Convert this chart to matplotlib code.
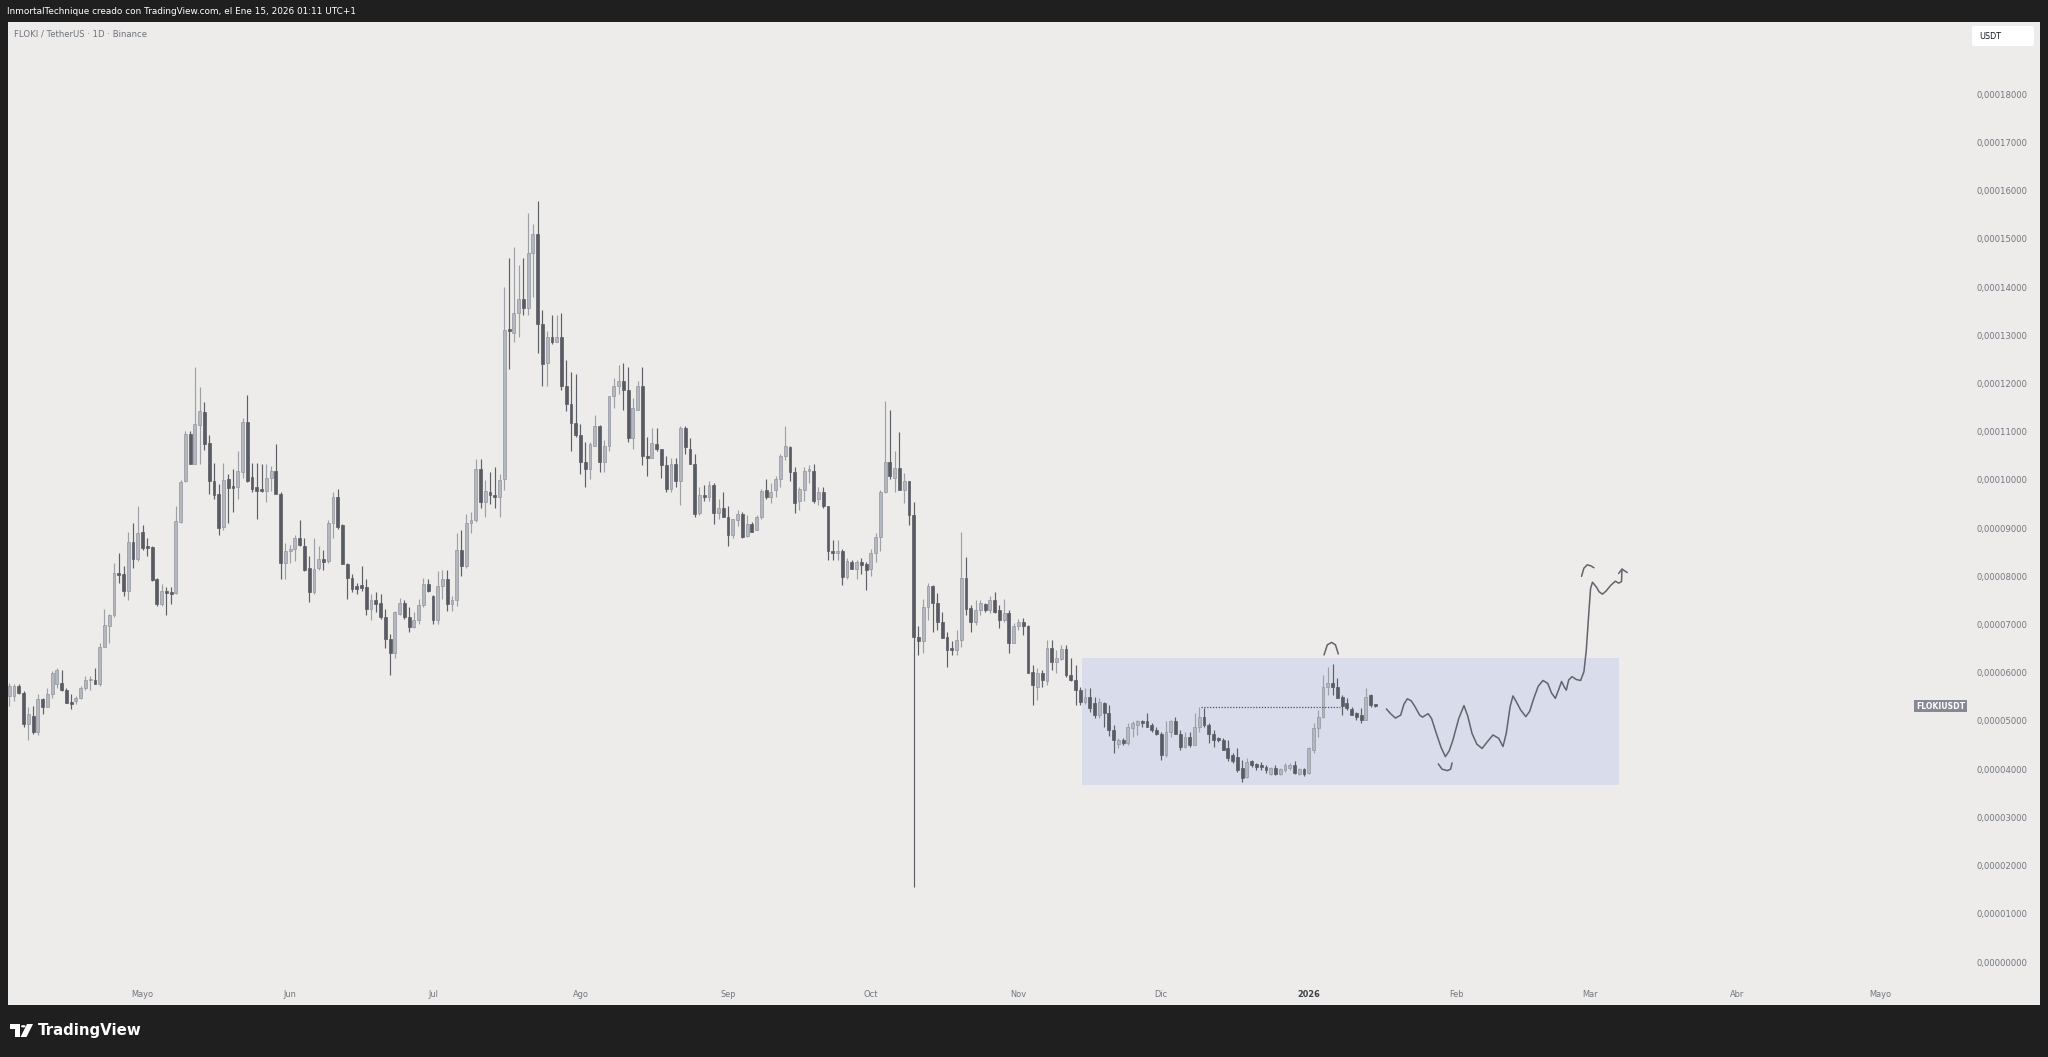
import numpy as np
import pandas as pd
import matplotlib
matplotlib.use("Agg")
import matplotlib.pyplot as plt
import matplotlib.dates as mdates
import matplotlib.transforms as mtrans
from matplotlib.patches import Rectangle, FancyBboxPatch, Circle, Polygon
from matplotlib import font_manager as fm

# ---------------- DATA (prices in units of 1e-5 USDT) ----------------
first_candle_date = "2025-04-03"

open_e5 = [5.52, 5.52, 5.72, 5.58, 4.94, 5.11, 4.77, 5.45, 5.28, 5.55,
           5.76, 5.79, 5.65, 5.38, 5.41, 5.48, 5.69, 5.84, 5.86, 5.77,
           6.54, 6.98, 7.19, 8.04, 8.04, 7.70, 8.72, 8.35, 8.91, 8.61,
           8.61, 7.94, 7.43, 7.70, 7.67, 7.65, 9.13, 9.97, 10.95, 10.34,
           11.15, 11.40, 10.77, 9.97, 9.71, 9.03, 10.02, 9.86, 9.86, 10.16,
           11.20, 10.07, 9.85, 9.78, 9.78, 10.05, 10.18, 9.71, 8.28, 8.52,
           8.57, 8.79, 8.62, 8.18, 7.67, 8.18, 8.36, 8.31, 9.10, 9.64,
           9.06, 8.25, 7.97, 7.80, 7.82, 7.77, 7.32, 7.52, 7.45, 7.15,
           6.70, 6.40, 7.22, 7.45, 7.15, 6.95, 7.09, 7.41, 7.84, 7.60,
           7.09, 7.80, 7.94, 7.43, 7.50, 8.55, 8.21, 9.10, 9.17, 10.22,
           9.54, 9.75, 9.68, 9.65, 10.02, 13.12, 13.05, 13.46, 13.75, 13.57,
           14.71, 15.11, 13.23, 12.42, 12.97, 12.86, 12.97, 11.95, 11.58, 11.18,
           10.94, 10.37, 10.22, 10.71, 11.12, 10.38, 10.71, 11.75, 11.94, 12.05,
           11.86, 10.86, 11.46, 11.94, 10.49, 10.45, 10.75, 10.64, 10.31, 9.82,
           10.34, 9.97, 11.08, 10.64, 10.34, 9.31, 9.68, 9.64, 9.90, 9.31,
           9.42, 9.23, 8.86, 9.16, 9.29, 8.83, 9.08, 8.97, 9.23, 9.79,
           9.64, 9.79, 10.01, 10.49, 10.68, 10.16, 9.56, 9.79, 10.19, 10.19,
           9.60, 9.75, 9.45, 8.53, 8.49, 8.53, 7.99, 8.30, 8.16, 8.29,
           8.25, 8.16, 8.49, 8.82, 9.75, 10.38, 10.05, 10.24, 9.79, 9.97,
           9.27, 6.75, 6.65, 7.37, 7.79, 7.44, 7.06, 6.75, 6.51, 6.47,
           6.68, 7.96, 7.34, 7.06, 7.30, 7.43, 7.30, 7.52, 7.30, 7.10,
           7.23, 6.61, 6.97, 7.06, 6.97, 6.02, 5.71, 6.00, 5.82, 6.51,
           6.23, 6.28, 6.49, 5.95, 5.85, 5.64, 5.40, 5.50, 5.37, 5.12,
           5.38, 5.16, 4.81, 4.52, 4.60, 4.54, 4.85, 4.92, 4.99, 4.99,
           4.92, 4.81, 4.74, 4.29, 4.78, 4.99, 4.74, 4.47, 4.67, 4.50,
           4.88, 5.08, 4.92, 4.74, 4.64, 4.60, 4.43, 4.29, 4.26, 4.02,
           3.84, 4.16, 4.11, 4.09, 4.04, 3.91, 4.02, 3.91, 3.98, 4.02,
           4.09, 3.91, 4.00, 3.93, 4.40, 4.85, 5.08, 5.71, 5.78, 5.71,
           5.50, 5.37, 5.24, 5.16, 5.12, 5.03, 5.54, 5.32]

high_e5 = [5.79, 5.76, 5.76, 5.62, 5.28, 5.31, 5.55, 5.48, 5.69, 6.03,
           6.10, 6.06, 5.69, 5.55, 5.52, 5.72, 5.93, 5.93, 6.10, 6.61,
           7.32, 7.22, 8.28, 8.48, 8.21, 8.93, 9.10, 9.47, 9.06, 8.79,
           8.62, 7.97, 7.84, 7.77, 7.77, 9.47, 9.99, 11.01, 11.01, 12.34,
           11.93, 11.62, 10.94, 10.36, 9.92, 10.36, 10.12, 10.22, 10.60, 11.28,
           11.77, 10.36, 10.36, 10.33, 10.34, 10.29, 10.75, 9.75, 8.69, 8.65,
           8.86, 9.17, 8.79, 8.42, 8.79, 8.62, 8.55, 9.17, 9.75, 9.82,
           9.08, 8.28, 8.04, 7.87, 8.21, 7.94, 7.63, 7.67, 7.63, 7.32,
           6.81, 7.29, 7.56, 7.50, 7.36, 7.26, 7.53, 7.97, 7.94, 7.62,
           8.11, 8.14, 8.14, 7.60, 8.89, 8.96, 9.30, 9.33, 10.43, 10.43,
           9.99, 10.16, 10.26, 10.12, 14.01, 14.60, 14.83, 14.46, 14.60, 15.53,
           15.31, 15.79, 13.53, 13.09, 13.42, 13.42, 13.46, 12.49, 12.23, 12.20,
           11.16, 10.79, 10.79, 11.34, 11.14, 10.83, 11.75, 12.12, 12.38, 12.42,
           12.34, 11.71, 12.05, 12.34, 10.90, 11.08, 11.08, 10.64, 10.49, 10.45,
           10.45, 11.12, 11.12, 10.86, 10.53, 9.86, 9.90, 9.97, 9.94, 9.60,
           9.75, 9.45, 9.19, 9.38, 9.34, 9.27, 9.12, 9.27, 9.82, 10.01,
           9.94, 10.08, 10.53, 11.12, 10.71, 10.27, 9.86, 10.27, 10.31, 10.34,
           9.86, 9.86, 9.45, 8.75, 8.75, 8.56, 8.38, 8.34, 8.34, 8.38,
           8.30, 8.56, 8.90, 9.79, 11.63, 11.46, 10.60, 11.00, 10.15, 9.97,
           9.55, 6.96, 7.54, 7.86, 7.82, 7.65, 7.27, 6.85, 6.65, 6.89,
           8.93, 8.41, 7.41, 7.51, 7.51, 7.455, 7.59, 7.68, 7.41, 7.54,
           7.30, 7.03, 7.11, 7.13, 6.99, 6.16, 6.09, 6.06, 6.69, 6.69,
           6.47, 6.58, 6.58, 6.30, 6.16, 5.71, 5.68, 5.68, 5.50, 5.47,
           5.40, 5.33, 4.92, 4.64, 4.64, 4.95, 4.99, 5.02, 5.02, 5.16,
           4.95, 4.88, 4.78, 4.99, 5.02, 5.09, 4.81, 4.78, 4.78, 5.16,
           5.30, 5.26, 4.95, 4.81, 4.67, 4.64, 4.60, 4.33, 4.43, 4.19,
           4.23, 4.19, 4.12, 4.14, 4.09, 4.05, 4.09, 4.02, 4.12, 4.12,
           4.16, 4.02, 4.02, 4.47, 4.95, 5.23, 5.95, 6.13, 6.18, 5.89,
           5.54, 5.47, 5.30, 5.19, 5.26, 5.68, 5.57, 5.33]

low_e5 = [5.31, 5.41, 5.55, 4.87, 4.60, 4.73, 4.70, 5.14, 5.28, 5.48,
          5.69, 5.62, 5.38, 5.24, 5.35, 5.45, 5.65, 5.65, 5.76, 5.72,
          6.54, 6.61, 7.15, 7.87, 7.60, 7.50, 8.18, 8.31, 8.55, 8.42,
          7.90, 7.39, 7.39, 7.19, 7.43, 7.63, 9.10, 9.95, 10.33, 10.33,
          10.33, 10.63, 9.71, 9.61, 8.86, 8.96, 9.10, 9.34, 9.61, 10.05,
          9.95, 9.75, 9.20, 9.75, 9.54, 9.78, 9.71, 7.94, 7.94, 8.28,
          8.31, 8.62, 8.11, 7.46, 7.63, 8.14, 8.14, 8.28, 8.79, 8.99,
          8.25, 7.53, 7.67, 7.63, 7.70, 7.19, 7.09, 7.26, 7.12, 6.51,
          5.96, 6.30, 7.19, 7.12, 6.85, 6.92, 7.02, 7.36, 7.67, 7.02,
          7.02, 7.53, 7.29, 7.29, 7.39, 8.00, 8.18, 8.89, 9.13, 9.41,
          9.24, 9.51, 9.41, 9.24, 9.79, 12.31, 12.86, 12.97, 13.42, 13.42,
          13.79, 12.64, 11.94, 11.95, 12.83, 12.86, 11.86, 11.42, 10.60, 10.90,
          10.12, 9.86, 10.01, 10.71, 10.16, 10.16, 10.60, 11.49, 11.79, 11.46,
          10.79, 10.64, 11.46, 10.31, 10.08, 10.45, 10.60, 10.05, 9.75, 9.75,
          9.86, 9.49, 10.53, 10.34, 9.23, 9.27, 9.56, 9.56, 9.08, 9.19,
          9.23, 8.64, 8.79, 9.05, 8.79, 8.82, 8.93, 8.97, 9.19, 9.60,
          9.53, 9.64, 9.86, 10.42, 9.97, 9.31, 9.38, 9.56, 9.94, 9.53,
          9.49, 9.42, 8.34, 8.34, 8.34, 7.82, 7.94, 8.16, 7.94, 8.05,
          7.71, 8.01, 8.30, 8.53, 9.72, 10.01, 9.75, 9.79, 9.52, 9.07,
          1.56, 6.37, 6.40, 7.10, 6.85, 6.89, 6.72, 6.13, 6.37, 6.37,
          6.54, 7.20, 6.85, 7.00, 7.20, 7.27, 7.23, 7.23, 6.92, 7.06,
          6.40, 6.61, 6.89, 6.78, 5.99, 5.33, 5.44, 5.71, 5.75, 6.06,
          5.99, 6.27, 5.92, 5.82, 5.33, 5.33, 5.36, 5.19, 5.06, 5.06,
          4.88, 4.68, 4.33, 4.43, 4.50, 4.50, 4.67, 4.71, 4.88, 4.88,
          4.78, 4.71, 4.19, 4.26, 4.67, 4.74, 4.40, 4.43, 4.47, 4.50,
          4.78, 4.88, 4.54, 4.47, 4.57, 4.40, 4.16, 4.12, 3.95, 3.74,
          3.81, 4.05, 3.98, 3.98, 3.93, 3.88, 3.88, 3.88, 3.95, 3.98,
          3.91, 3.88, 3.86, 3.91, 4.33, 4.67, 5.06, 5.54, 5.54, 5.47,
          5.12, 5.23, 5.12, 5.02, 4.95, 5.02, 5.30, 5.30]

close_e5 = [5.72, 5.73, 5.58, 4.94, 5.14, 4.77, 5.45, 5.28, 5.55, 5.99,
            6.06, 5.65, 5.38, 5.36, 5.48, 5.69, 5.84, 5.86, 5.77, 6.54,
            7.00, 7.19, 8.06, 8.03, 7.70, 8.72, 8.35, 8.90, 8.59, 8.59,
            7.92, 7.43, 7.70, 7.65, 7.63, 9.15, 9.95, 10.95, 10.34, 11.16,
            11.42, 10.75, 9.97, 9.68, 9.00, 10.00, 9.84, 9.84, 10.18, 11.20,
            9.97, 9.82, 9.78, 9.77, 10.05, 10.18, 9.71, 8.28, 8.52, 8.57,
            8.79, 8.65, 8.14, 7.67, 8.16, 8.36, 8.30, 9.11, 9.64, 9.03,
            8.25, 7.97, 7.73, 7.73, 7.75, 7.32, 7.52, 7.43, 7.15, 6.71,
            6.40, 7.26, 7.45, 7.15, 6.95, 7.09, 7.41, 7.84, 7.70, 7.09,
            7.80, 7.94, 7.43, 7.50, 8.55, 8.21, 9.10, 9.17, 10.22, 9.54,
            9.77, 9.68, 9.65, 10.00, 13.12, 13.09, 13.46, 13.75, 13.57, 14.71,
            15.11, 13.23, 12.40, 12.97, 12.86, 12.97, 11.94, 11.58, 11.18, 10.94,
            10.37, 10.22, 10.75, 11.12, 10.38, 10.71, 11.75, 11.94, 12.05, 11.86,
            10.86, 11.49, 11.94, 10.49, 10.45, 10.77, 10.64, 10.31, 9.82, 10.34,
            9.97, 11.08, 10.68, 10.34, 9.29, 9.68, 9.64, 9.90, 9.31, 9.42,
            9.23, 8.86, 9.19, 9.29, 8.82, 9.08, 8.93, 9.23, 9.77, 9.64,
            9.75, 10.01, 10.49, 10.71, 10.16, 9.53, 9.82, 10.19, 10.19, 9.56,
            9.75, 9.45, 8.53, 8.49, 8.53, 7.99, 8.32, 8.16, 8.30, 8.23,
            8.14, 8.49, 8.82, 9.75, 10.38, 10.09, 10.25, 9.79, 9.97, 9.27,
            6.75, 6.65, 7.37, 7.79, 7.44, 7.06, 6.72, 6.47, 6.47, 6.68,
            7.96, 7.32, 7.06, 7.30, 7.455, 7.30, 7.52, 7.27, 7.10, 7.23,
            6.61, 6.97, 7.06, 6.97, 5.99, 5.75, 5.99, 5.85, 6.51, 6.23,
            6.30, 6.49, 5.95, 5.85, 5.64, 5.40, 5.50, 5.26, 5.12, 5.40,
            5.16, 4.81, 4.61, 4.60, 4.55, 4.88, 4.95, 4.99, 4.95, 4.88,
            4.81, 4.74, 4.29, 4.78, 4.99, 4.74, 4.47, 4.67, 4.50, 4.88,
            5.08, 4.92, 4.74, 4.60, 4.60, 4.40, 4.23, 4.16, 3.98, 3.81,
            4.14, 4.09, 4.04, 4.04, 3.98, 4.02, 3.91, 4.00, 4.09, 4.09,
            3.93, 4.00, 3.91, 4.43, 4.85, 5.09, 5.71, 5.78, 5.71, 5.47,
            5.31, 5.26, 5.12, 5.09, 5.02, 5.50, 5.33, 5.31]

# time-axis labels (first day of each month)
month_starts = ["2025-05-01", "2025-06-01", "2025-07-01", "2025-08-01", "2025-09-01",
                "2025-10-01", "2025-11-01", "2025-12-01", "2026-01-01", "2026-02-01",
                "2026-03-01", "2026-04-01", "2026-05-01"]
month_labels = ["Mayo", "Jun", "Jul", "Ago", "Sep", "Oct", "Nov", "Dic", "2026",
                "Feb", "Mar", "Abr", "Mayo"]
price_ticks_e5 = list(range(0, 19))

# drawings (days counted from 2025-05-01, price in 1e-5)
drawing_origin = "2025-05-01"
range_box_days = [197.3, 310.1]
range_box_prices = [3.67, 6.31]
level_line_days = [222.3, 251.5]
level_line_price = 5.28

sketch_days = [261.3, 262.2, 263.2, 264.3, 265.0, 265.7, 266.5, 267.3, 268.3, 268.9,
               269.7, 270.1, 270.8, 271.8, 272.8, 273.7, 274.5, 275.3, 276.5, 277.6,
               278.4, 279.3, 280.3, 281.4, 282.6, 283.7, 284.9, 285.8, 286.5, 287.3,
               287.9, 288.7, 289.5, 290.6, 291.4, 292.2, 293.2, 294.2, 295.2, 296.0,
               296.8, 297.5, 298.1, 298.7, 299.1, 299.6, 300.3, 301.2, 302.1, 302.8,
               303.3, 303.8, 304.2, 304.6, 305.4, 306.0, 306.7, 307.5, 308.4, 309.4,
               310.1, 310.7, 310.8]
sketch_prices = [5.25, 5.15, 5.06, 5.12, 5.35, 5.46, 5.42, 5.30, 5.12, 5.08,
                 5.13, 5.15, 5.05, 4.74, 4.45, 4.26, 4.38, 4.61, 5.05, 5.32,
                 5.10, 4.74, 4.52, 4.43, 4.58, 4.71, 4.64, 4.47, 4.75, 5.30,
                 5.52, 5.38, 5.23, 5.09, 5.20, 5.45, 5.72, 5.84, 5.78, 5.58,
                 5.47, 5.65, 5.82, 5.70, 5.64, 5.85, 5.92, 5.86, 5.84, 6.02,
                 6.47, 7.20, 7.75, 7.88, 7.78, 7.68, 7.63, 7.70, 7.81, 7.90,
                 7.86, 7.89, 8.15]
arrow_head_days = [310.1, 310.8, 311.9]
arrow_head_prices = [8.06, 8.15, 8.08]
arc_top_days = [302.3, 302.8, 303.5, 304.2, 304.9]
arc_top_prices = [8.00, 8.17, 8.24, 8.22, 8.18]
arc_bottom_days = [272.2, 273.0, 274.1, 274.8, 275.1]
arc_bottom_prices = [4.11, 4.00, 3.97, 4.00, 4.13]
arc_jan_days = [248.2, 248.9, 249.8, 250.6, 251.2]
arc_jan_prices = [6.37, 6.58, 6.63, 6.58, 6.39]

# ---------------- STYLE ----------------
FRAME = "#1F1F1F"
BG = "#EDECEA"
UP_FACE, UP_EDGE, UP_WICK = "#B5B7BE", "#93969F", "#9EA0A8"
DN_FACE, DN_WICK = "#595B63", "#5D5F67"
BOX = "#D9DCEA"
INK = "#62646D"
LABEL = "#737680"


def has_font(name):
    try:
        fm.findfont(fm.FontProperties(family=name), fallback_to_default=False)
        return True
    except Exception:
        return False


NARROW = has_font("Liberation Sans Narrow")
FONT = ["Liberation Sans Narrow", "DejaVu Sans"] if NARROW else ["DejaVu Sans"]
SC = 1.0 if NARROW else 0.78
plt.rcParams["font.family"] = FONT

W, H = 2048, 1057
fig = plt.figure(figsize=(W / 100, H / 100), dpi=100, facecolor=FRAME)


def fx(px):
    return px / W


def fy(py):
    return 1 - py / H


# light panel
fig.add_artist(Rectangle((fx(8), fy(1005)), fx(2040) - fx(8), fy(22) - fy(1005),
                         transform=fig.transFigure, facecolor=BG, edgecolor="none", zorder=0))

ax = fig.add_axes([fx(8), fy(985), fx(1969) - fx(8), fy(22) - fy(985)])
ax.set_facecolor(BG)
for s in ax.spines.values():
    s.set_visible(False)

dates = pd.date_range(first_candle_date, periods=len(close_e5), freq="D")
x = mdates.date2num(dates)
o = np.array(open_e5)
h = np.array(high_e5)
l = np.array(low_e5)
c = np.array(close_e5)
up = c >= o

origin = mdates.date2num(pd.Timestamp(drawing_origin))

# range box
ax.add_patch(Rectangle((origin + range_box_days[0], range_box_prices[0]),
                       range_box_days[1] - range_box_days[0],
                       range_box_prices[1] - range_box_prices[0],
                       facecolor=BOX, edgecolor="none", zorder=1))

# wicks
ax.vlines(x[up], l[up], h[up], color=UP_WICK, linewidth=0.85, zorder=2)
ax.vlines(x[~up], l[~up], h[~up], color=DN_WICK, linewidth=0.85, zorder=2)
# bodies
bw = 0.6
body_lo = np.minimum(o, c)
body_h = np.maximum(np.abs(c - o), 0.035)
ax.bar(x[up], body_h[up], bottom=body_lo[up], width=bw, color=UP_FACE,
       edgecolor=UP_EDGE, linewidth=0.5, zorder=3)
ax.bar(x[~up], body_h[~up], bottom=body_lo[~up], width=bw, color=DN_FACE,
       edgecolor=DN_FACE, linewidth=0.5, zorder=3)

# dotted level line
ax.plot([origin + d for d in level_line_days], [level_line_price] * 2,
        linestyle=(0, (1, 1.3)), color="#4F5159", linewidth=0.9, zorder=4)

# sketch drawings
kw = dict(color=INK, linewidth=1.1, solid_capstyle="round", solid_joinstyle="round", zorder=5)
ax.plot([origin + d for d in sketch_days], sketch_prices, **kw)
ax.plot([origin + d for d in arrow_head_days], arrow_head_prices, **kw)
ax.plot([origin + d for d in arc_top_days], arc_top_prices, **kw)
ax.plot([origin + d for d in arc_bottom_days], arc_bottom_prices, **kw)
ax.plot([origin + d for d in arc_jan_days], arc_jan_prices, **kw)

# limits: left edge ~ -0.27 day from first candle, right edge +411.7 days
x0 = x[0]
ax.set_xlim(x0 - 0.27, x0 + 411.7)
ax.set_ylim(-0.477, 19.50)

# x ticks
xt = mdates.date2num(pd.to_datetime(month_starts))
ax.set_xticks(xt)
ax.set_xticklabels(month_labels)
ax.tick_params(axis="x", length=0, pad=3.4, labelsize=7.6 * SC, labelcolor=LABEL)
for lab in ax.get_xticklabels():
    if lab.get_text() == "2026":
        lab.set_fontweight("bold")
        lab.set_color("#3D4049")

# y ticks on the right
ax.yaxis.tick_right()
ax.set_yticks(price_ticks_e5)
ax.set_yticklabels([f"{v * 1e-5:.8f}".replace(".", ",") for v in price_ticks_e5])
ax.tick_params(axis="y", length=0, pad=5.2, labelsize=7.8 * SC, labelcolor=LABEL)

# last price label
blend = mtrans.blended_transform_factory(ax.transAxes, ax.transData)
ax.text((1940.5 - 8) / (1969 - 8), close_e5[-1], "FLOKIUSDT", transform=blend,
        ha="center", va="center", color="white", fontsize=7.2 * SC, fontweight="bold",
        bbox=dict(boxstyle="square,pad=0.22", facecolor="#868993", edgecolor="none"),
        zorder=6)

# header
fig.text(fx(7), fy(11), "InmortalTechnique creado con TradingView.com, el Ene 15, 2026 01:11 UTC+1",
         color="white", fontsize=8.2 * SC, ha="left", va="center")
fig.text(fx(14), fy(34), "FLOKI / TetherUS \u00b7 1D \u00b7 Binance",
         color="#6F727C", fontsize=7.8 * SC, ha="left", va="center")

# USDT box
fig.add_artist(FancyBboxPatch((fx(1972), fy(46)), fx(2034) - fx(1972), fy(26) - fy(46),
                              boxstyle="round,pad=0,rounding_size=0.002",
                              transform=fig.transFigure, facecolor="white",
                              edgecolor="none", zorder=3))
fig.text(fx(1979), fy(36.5), "USDT", color="#131722", fontsize=7.4 * SC,
         ha="left", va="center", zorder=4)

# TradingView logo + wordmark
logo_col = "white"
fig.add_artist(Polygon([(fx(10), fy(1024)), (fx(20), fy(1024)), (fx(20), fy(1037)),
                        (fx(15), fy(1037)), (fx(15), fy(1028.5)), (fx(10), fy(1028.5))],
                       closed=True, transform=fig.transFigure, facecolor=logo_col,
                       edgecolor="none", zorder=3))
fig.add_artist(Circle((fx(23.3), fy(1026.3)), 2.3 / W, transform=fig.transFigure,
                      facecolor=logo_col, edgecolor="none", zorder=3))
fig.add_artist(Polygon([(fx(27), fy(1024)), (fx(33), fy(1024)), (fx(26.5), fy(1037)),
                        (fx(20.5), fy(1037))],
                       closed=True, transform=fig.transFigure, facecolor=logo_col,
                       edgecolor="none", zorder=3))
fig.text(fx(38), fy(1030.5), "TradingView", color="white", fontsize=10.8,
         fontweight="bold", family=["DejaVu Sans"], ha="left", va="center")

fig.savefig("out.png", dpi=100, facecolor=FRAME)
